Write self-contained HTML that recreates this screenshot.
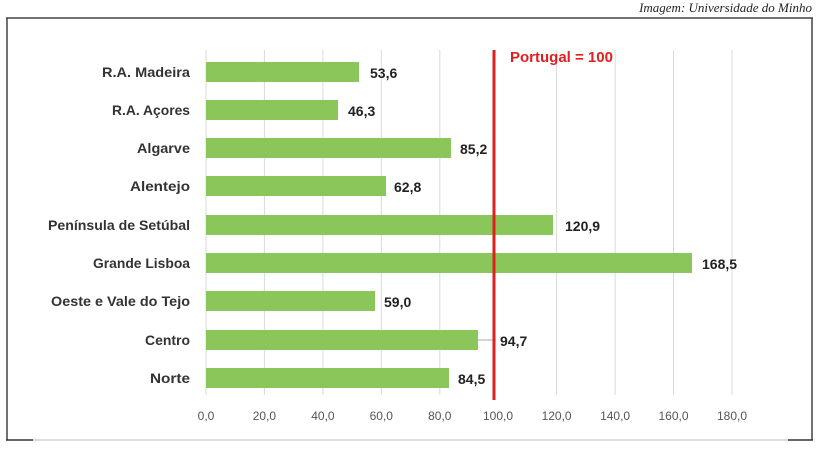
<!DOCTYPE html>
<html><head><meta charset="utf-8"><style>
body{margin:0;background:#fff;}
svg{display:block;font-family:"Liberation Sans",sans-serif;}
</style></head><body>
<svg width="822" height="454" xmlns="http://www.w3.org/2000/svg">
<text x="812" y="12" text-anchor="end" font-family="Liberation Serif" font-style="italic" font-size="13" fill="#222">Imagem: Universidade do Minho</text>
<line x1="6" y1="18" x2="813" y2="18" stroke="#444" stroke-width="1.5"/>
<line x1="7" y1="18" x2="7" y2="440" stroke="#444" stroke-width="1.5"/>
<line x1="812" y1="18" x2="812" y2="440" stroke="#444" stroke-width="1.5"/>
<line x1="6" y1="440" x2="813" y2="440" stroke="#bbb" stroke-width="1"/>
<line x1="6" y1="440" x2="33" y2="440" stroke="#333" stroke-width="1.5"/>
<line x1="788" y1="440" x2="813" y2="440" stroke="#333" stroke-width="1.5"/>
<g stroke="#d9d9d9" stroke-width="1">
<line x1="206" y1="50" x2="206" y2="395"/><line x1="264.4" y1="50" x2="264.4" y2="395"/><line x1="322.9" y1="50" x2="322.9" y2="395"/><line x1="381.3" y1="50" x2="381.3" y2="395"/><line x1="439.8" y1="50" x2="439.8" y2="395"/><line x1="556.6" y1="50" x2="556.6" y2="395"/><line x1="615.1" y1="50" x2="615.1" y2="395"/><line x1="673.5" y1="50" x2="673.5" y2="395"/><line x1="732" y1="50" x2="732" y2="395"/>
</g>
<g fill="#8bc65a">
<rect x="206" y="62" width="153" height="20"/>
<rect x="206" y="100" width="132" height="20"/>
<rect x="206" y="138" width="245" height="20"/>
<rect x="206" y="176" width="180" height="20"/>
<rect x="206" y="215" width="347" height="20"/>
<rect x="206" y="253" width="486" height="20"/>
<rect x="206" y="291" width="169" height="20"/>
<rect x="206" y="330" width="272" height="20"/>
<rect x="206" y="368" width="243" height="20"/>
</g>
<line x1="478" y1="340" x2="496" y2="340" stroke="#aaa"/>
<g font-size="14" font-weight="bold" fill="#333" text-anchor="end">
<text x="190" y="77" textLength="88" lengthAdjust="spacingAndGlyphs">R.A. Madeira</text>
<text x="190" y="115" textLength="78" lengthAdjust="spacingAndGlyphs">R.A. Açores</text>
<text x="190" y="153" textLength="53" lengthAdjust="spacingAndGlyphs">Algarve</text>
<text x="190" y="191" textLength="60" lengthAdjust="spacingAndGlyphs">Alentejo</text>
<text x="190" y="230" textLength="142" lengthAdjust="spacingAndGlyphs">Península de Setúbal</text>
<text x="190" y="268" textLength="97" lengthAdjust="spacingAndGlyphs">Grande Lisboa</text>
<text x="190" y="306" textLength="139" lengthAdjust="spacingAndGlyphs">Oeste e Vale do Tejo</text>
<text x="190" y="345" textLength="45" lengthAdjust="spacingAndGlyphs">Centro</text>
<text x="190" y="383" textLength="40" lengthAdjust="spacingAndGlyphs">Norte</text>
</g>
<g font-size="14" font-weight="bold" fill="#222">
<text x="370" y="78">53,6</text>
<text x="348" y="116">46,3</text>
<text x="460" y="154">85,2</text>
<text x="394" y="192">62,8</text>
<text x="565" y="231">120,9</text>
<text x="702" y="269">168,5</text>
<text x="384" y="307">59,0</text>
<text x="500" y="346">94,7</text>
<text x="458" y="384">84,5</text>
</g>
<line x1="494" y1="50" x2="494" y2="400" stroke="#e0201e" stroke-width="3"/>
<text x="510" y="62" font-size="15" font-weight="bold" fill="#e0201e">Portugal = 100</text>
<g font-size="12" fill="#555" text-anchor="middle">
<text x="206" y="420">0,0</text><text x="264.4" y="420">20,0</text><text x="322.9" y="420">40,0</text><text x="381.3" y="420">60,0</text><text x="439.8" y="420">80,0</text><text x="498" y="420">100,0</text><text x="556.6" y="420">120,0</text><text x="615.1" y="420">140,0</text><text x="673.5" y="420">160,0</text><text x="732" y="420">180,0</text>
</g>
</svg>
</body></html>
